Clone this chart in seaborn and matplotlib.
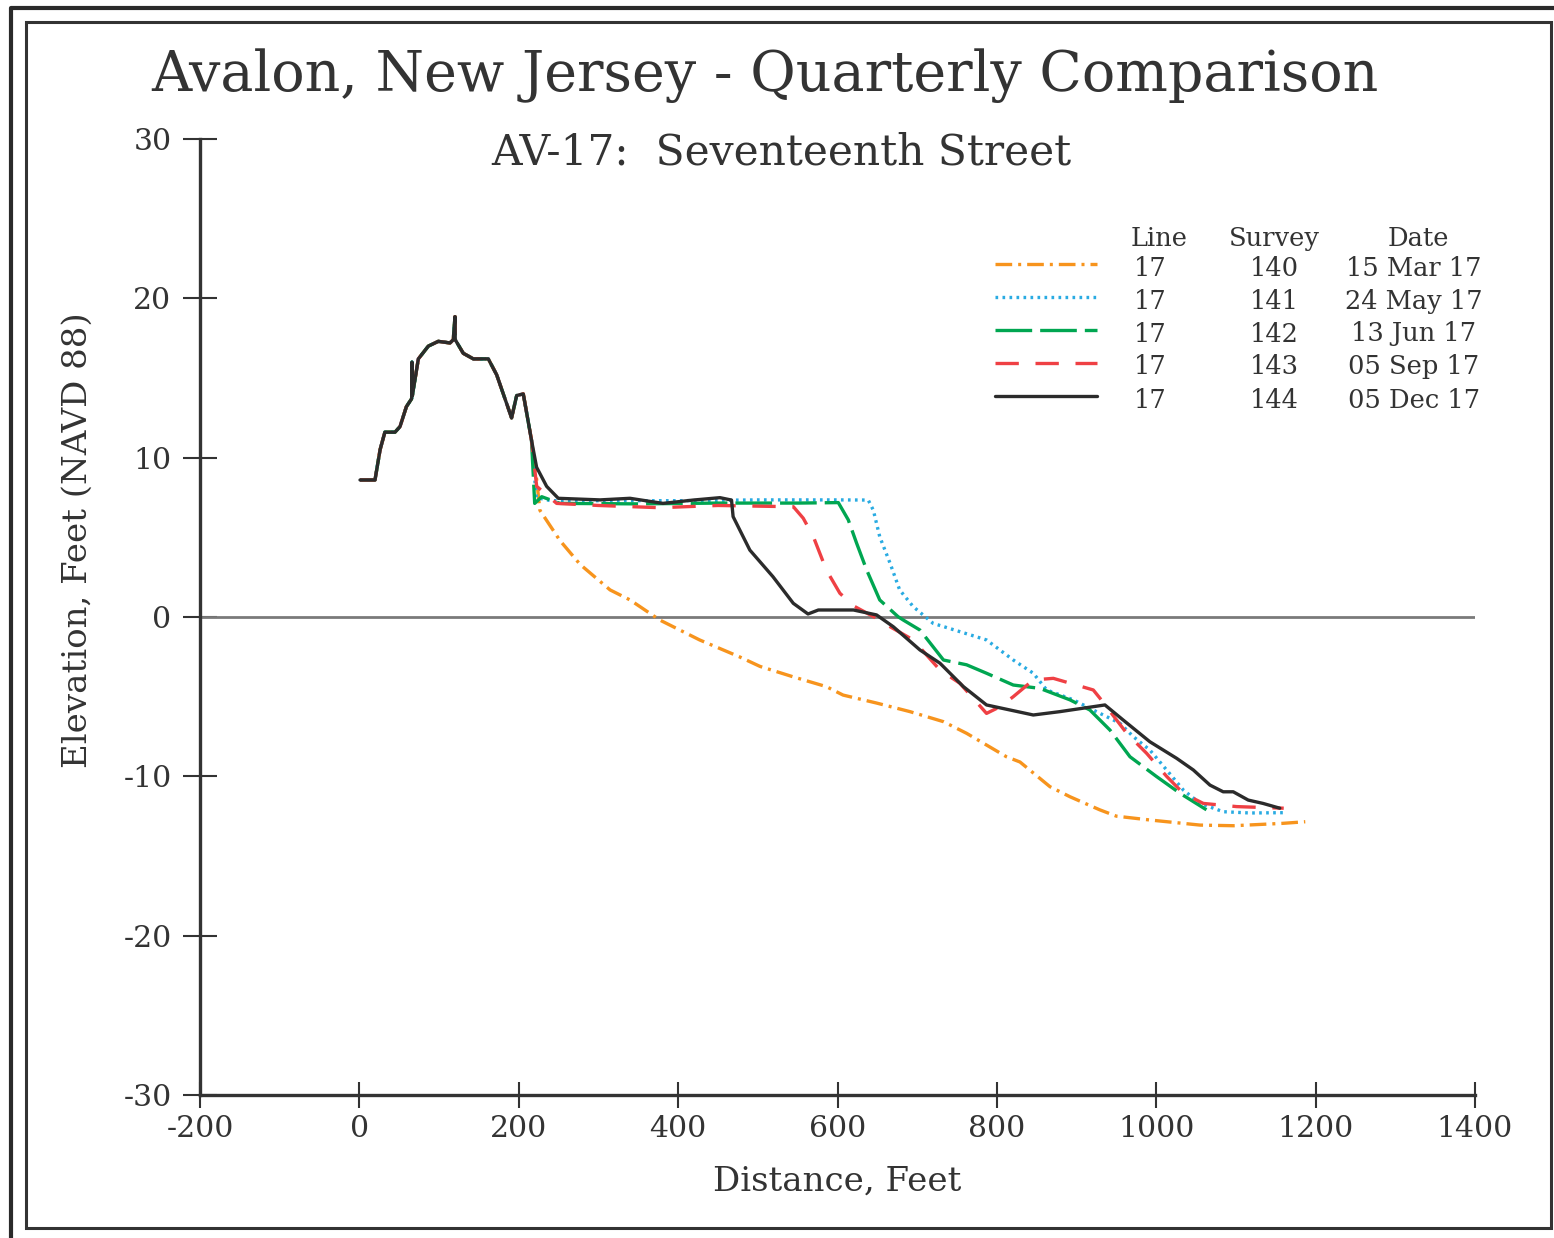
import pandas as pd
import matplotlib.pyplot as plt
import seaborn as sns
from matplotlib.lines import Line2D
from matplotlib.patches import Rectangle

# shared dune profile (all five surveys overlap here)
dune_x = [0.8, 19.6, 26, 32, 44.7, 51, 59, 65.6, 66, 66.5, 74, 86.5, 99, 113.7, 117.8,
          120, 120.3, 130.4, 143, 161.8, 172.3, 191, 197.4, 205.7, 216]
dune_y = [8.6, 8.6, 10.5, 11.6, 11.6, 11.95, 13.2, 13.7, 16.0, 13.9, 16.2, 17.0, 17.3, 17.2, 17.4,
          18.85, 17.4, 16.55, 16.2, 16.2, 15.2, 12.5, 13.9, 14.0, 11.1]

# survey 140 - 15 Mar 17
s140_x = [222.5, 226.5, 251.7, 277, 314.6, 339.7, 377, 427, 477, 502.7, 544, 586, 607, 649, 691,
          733, 762, 812, 829, 866.6, 891.7, 929, 950, 992, 1055, 1097, 1159, 1187]
s140_y = [8.6, 6.7, 4.8, 3.3, 1.7, 1.07, -0.19, -1.44, -2.5, -3.1, -3.75, -4.37, -4.9, -5.4, -5.94,
          -6.57, -7.3, -8.77, -9.1, -10.65, -11.28, -12.1, -12.5, -12.74, -13.06, -13.1, -12.95, -12.85]

# survey 141 - 24 May 17
s141_x = [222, 240, 300, 400, 500, 600, 638.6, 645, 653, 666, 678, 695, 720, 753.6, 787, 820.6,
          845.7, 862.5, 896, 925, 954.5, 971, 992, 1013, 1034, 1055, 1084, 1117.5, 1163]
s141_y = [7.5, 7.3, 7.3, 7.3, 7.35, 7.35, 7.34, 6.7, 5.04, 3.37, 1.7, 0.65, -0.4, -0.92, -1.44, -2.7,
          -3.53, -4.58, -5.2, -5.94, -6.67, -7.5, -8.35, -9.6, -10.86, -11.7, -12.22, -12.3, -12.28]

# survey 142 - 13 Jun 17
s142_x = [220, 228.8, 251.7, 350, 450, 550, 601, 613.5, 624, 636.6, 653, 676, 682.5, 703.5, 733,
          762, 787, 820.6, 854, 891.7, 916.8, 942, 967, 1000, 1030, 1063]
s142_y = [7.13, 7.55, 7.13, 7.1, 7.15, 7.15, 7.18, 6.1, 4.63, 2.95, 1.07, 0.02, -0.19, -0.82, -2.7,
          -3.0, -3.53, -4.27, -4.48, -5.2, -5.84, -7.1, -8.77, -10.0, -11.07, -12.1]

# survey 143 - 05 Sep 17
s143_x = [222.5, 247.6, 300, 377, 450, 544.6, 557, 569.7, 586, 603, 620, 653, 666, 695, 728.6,
          753.6, 787, 804, 820.6, 845.7, 870.8, 921, 929.4, 963, 988, 1013, 1034, 1059, 1101, 1160]
s143_y = [8.2, 7.13, 7.0, 6.86, 7.0, 6.92, 6.2, 5.04, 2.95, 1.49, 0.7, -0.19, -0.61, -1.44, -3.33,
          -4.16, -6.05, -5.63, -5.0, -3.95, -3.85, -4.58, -5.1, -7.3, -8.56, -10.0, -11.07, -11.7, -11.9, -12.0]

# survey 144 - 05 Dec 17
s144_x = [222.4, 235, 249.6, 302, 339.6, 381, 419, 452.5, 467, 469, 490, 519, 544.5, 563, 576, 620,
          649, 670, 703.5, 728.6, 758, 787, 845.7, 879, 935.6, 958.6, 992, 1025.6, 1046.5, 1067.4,
          1084, 1096.6, 1115.4, 1134, 1155]
s144_y = [9.4, 8.2, 7.45, 7.35, 7.45, 7.13, 7.34, 7.49, 7.34, 6.3, 4.2, 2.53, 0.86, 0.19, 0.44, 0.44,
          0.13, -0.61, -2.07, -2.9, -4.37, -5.52, -6.15, -5.94, -5.52, -6.47, -7.83, -8.87, -9.6, -10.55,
          -10.97, -10.97, -11.49, -11.7, -12.0]

surveys = ["140", "141", "142", "143", "144"]
dates = ["15 Mar 17", "24 May 17", "13 Jun 17", "05 Sep 17", "05 Dec 17"]
line_no = ["17", "17", "17", "17", "17"]
tails = [(s140_x, s140_y), (s141_x, s141_y), (s142_x, s142_y), (s143_x, s143_y), (s144_x, s144_y)]

colors = {"140": "#F7941D", "141": "#29ABE2", "142": "#00A651", "143": "#EF4044", "144": "#2B2B2B"}
dash = {"140": (5, 1.8, 0.9, 1.8), "141": (0.8, 1.3), "142": (11, 2.4), "143": (7, 5), "144": ""}

rows = []
for s, (tx, ty) in zip(surveys, tails):
    for x, y in zip(dune_x + tx, dune_y + ty):
        rows.append({"survey": s, "dist": x, "elev": y})
df = pd.DataFrame(rows)

sns.set_style("ticks")
plt.rcParams["font.family"] = ["DejaVu Serif"]
plt.rcParams["axes.unicode_minus"] = False
ink = "#333333"

fig = plt.figure(figsize=(15.54, 12.38), dpi=100)
ax = fig.add_axes([200 / 1554, 1 - 1095 / 1238, 1275 / 1554, 956 / 1238])

ax.axhline(0, color="#7a7a7a", lw=2, zorder=1)
sns.lineplot(data=df, x="dist", y="elev", hue="survey", style="survey",
             palette=colors, dashes=dash, sort=False, estimator=None,
             linewidth=2.4, legend=False, ax=ax, zorder=3)

ax.set_xlim(-200, 1400)
ax.set_ylim(-30, 30)
ax.set_xticks(range(-200, 1401, 200))
ax.set_yticks(range(-30, 31, 10))
for side in ["top", "right"]:
    ax.spines[side].set_visible(False)
for side in ["left", "bottom"]:
    ax.spines[side].set_color(ink)
    ax.spines[side].set_linewidth(2.4)
ax.tick_params(axis="y", direction="inout", length=25, width=1.5, color=ink,
               labelsize=21.5, labelcolor=ink, pad=8)
ax.tick_params(axis="x", direction="inout", length=19, width=1.5, color=ink,
               labelsize=21.5, labelcolor=ink, pad=5)
ax.set_xlabel("Distance, Feet", fontsize=24.5, color=ink, labelpad=16)
ax.set_ylabel("Elevation, Feet (NAVD 88)", fontsize=24.5, color=ink)
ax.yaxis.set_label_coords(-0.083, 0.5805)

fig.text(0.492, 0.939, "Avalon, New Jersey - Quarterly Comparison", ha="center", va="center",
         fontsize=40, color=ink)
fig.text(0.5025, 0.877, "AV-17:  Seventeenth Street", ha="center", va="center",
         fontsize=30.5, color=ink)

# legend table
W, H = 1554, 1238
hy = 1 - 238 / H
fig.text(1159 / W, hy, "Line", ha="center", va="center", fontsize=18.5, color=ink)
fig.text(1274 / W, hy, "Survey", ha="center", va="center", fontsize=18.5, color=ink)
fig.text(1418 / W, hy, "Date", ha="center", va="center", fontsize=18.5, color=ink)
for i, s in enumerate(surveys):
    yy = 1 - (268 + 33 * i) / H
    fig.add_artist(Line2D([995 / W, 1097 / W], [yy + 4 / H, yy + 4 / H], color=colors[s], lw=2.4,
                          dashes=dash[s] if dash[s] else (None, None)))
    fig.text(1150 / W, yy, line_no[i], ha="center", va="center", fontsize=18.5, color=ink)
    fig.text(1274 / W, yy, s, ha="center", va="center", fontsize=18.5, color=ink)
    fig.text(1414 / W, yy, dates[i], ha="center", va="center", fontsize=18.5, color=ink)

# double frame
fig.add_artist(Rectangle((26 / W, 1 - 1228 / H), 1525 / W, 1206 / H, fill=False,
                         edgecolor=ink, lw=2.2, transform=fig.transFigure))
fig.add_artist(Line2D([11 / W, 11 / W, 1.0], [0.0, 1 - 8 / H, 1 - 8 / H], color="#2a2a2a", lw=3))

fig.savefig("out.png", dpi=100)
